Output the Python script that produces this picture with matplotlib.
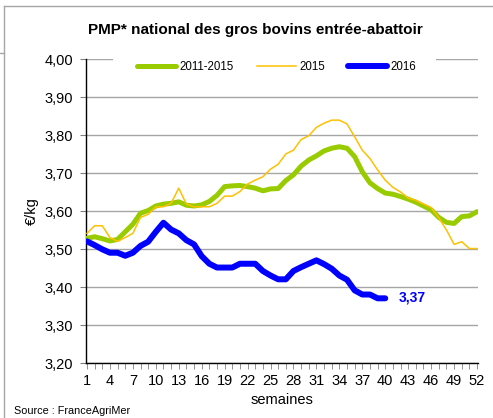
import matplotlib
matplotlib.use('Agg')
import matplotlib.pyplot as plt
from matplotlib.lines import Line2D
from matplotlib.patches import Rectangle

plt.rcParams['font.family'] = ['Liberation Sans', 'DejaVu Sans']

weeks = list(range(1, 53))
weeks_2016 = list(range(1, 41))

moy_2011_2015 = [3.529, 3.533, 3.528, 3.522, 3.526, 3.546, 3.566, 3.595, 3.602, 3.614,
                 3.619, 3.621, 3.625, 3.616, 3.614, 3.617, 3.626, 3.642, 3.665, 3.667,
                 3.668, 3.665, 3.661, 3.654, 3.659, 3.660, 3.681, 3.696, 3.719, 3.735,
                 3.746, 3.759, 3.766, 3.770, 3.766, 3.744, 3.704, 3.675, 3.660, 3.648,
                 3.645, 3.639, 3.632, 3.624, 3.614, 3.604, 3.584, 3.571, 3.568, 3.586,
                 3.588, 3.599]
prix_2015 = [3.542, 3.562, 3.562, 3.531, 3.521, 3.531, 3.542, 3.584, 3.592, 3.612,
             3.612, 3.621, 3.661, 3.619, 3.612, 3.612, 3.612, 3.621, 3.640, 3.640,
             3.652, 3.672, 3.682, 3.691, 3.711, 3.724, 3.751, 3.761, 3.789, 3.799,
             3.821, 3.832, 3.840, 3.840, 3.830, 3.796, 3.761, 3.739, 3.709, 3.682,
             3.663, 3.651, 3.635, 3.629, 3.619, 3.610, 3.583, 3.551, 3.513, 3.520,
             3.502, 3.502]
prix_2016 = [3.521, 3.511, 3.500, 3.491, 3.491, 3.483, 3.491, 3.509, 3.520, 3.546,
             3.570, 3.552, 3.542, 3.524, 3.513, 3.482, 3.462, 3.452, 3.452, 3.452,
             3.462, 3.462, 3.462, 3.443, 3.431, 3.421, 3.421, 3.443, 3.453, 3.462,
             3.471, 3.461, 3.449, 3.431, 3.420, 3.392, 3.381, 3.381, 3.371, 3.371]

yticks = [3.20, 3.30, 3.40, 3.50, 3.60, 3.70, 3.80, 3.90, 4.00]
xlabels = list(range(1, 53, 3))

green = '#99cc00'
yellow = '#ffc000'
blue = '#0000ff'

fig = plt.figure(figsize=(4.93, 4.18), dpi=100)
ax = fig.add_axes([0.1744, 0.1309, 0.7952, 0.7271])

# cadre gris autour du graphique
fig.add_artist(Line2D([4/493, 1], [1 - 6/418, 1 - 6/418], color='#a6a6a6', lw=1))
fig.add_artist(Line2D([4/493, 4/493], [0, 1 - 6/418], color='#a6a6a6', lw=1))
fig.add_artist(Line2D([0, 4/493], [1 - 53/418, 1 - 53/418], color='#a6a6a6', lw=1))

ax.plot(weeks, moy_2011_2015, color=green, lw=3.6, label='2011-2015', solid_capstyle='round', zorder=3)
ax.plot(weeks, prix_2015, color=yellow, lw=1.1, label='2015', zorder=4)
ax.plot(weeks_2016, prix_2016, color=blue, lw=4.3, label='2016', solid_capstyle='round', zorder=5)

ax.text(41.8, 3.372, '3,37', color=blue, fontsize=10, fontweight='bold', ha='left', va='center')

ax.set_xlim(0.87, 52.13)
ax.set_ylim(3.20, 4.00)
ax.set_yticks(yticks)
ax.set_yticklabels([('%.2f' % v).replace('.', ',') for v in yticks])
ax.set_xticks(weeks)
ax.set_xticklabels([str(w) if w in xlabels else '' for w in weeks])
ax.tick_params(axis='x', length=4, width=0.6, color='#808080', labelsize=10.5, pad=4)
ax.tick_params(axis='y', length=4.5, width=0.8, color='#808080', labelsize=10.5, pad=5)
ax.grid(axis='y', color='#a6a6a6', lw=1)
ax.set_axisbelow(True)
for s in ['top', 'right']:
    ax.spines[s].set_visible(False)
ax.spines['left'].set_linewidth(1)
ax.spines['bottom'].set_linewidth(1)

ax.set_ylabel('€/kg', fontsize=10.5, labelpad=4)
ax.set_xlabel('semaines', fontsize=10.5, labelpad=3)

# fond blanc de la legende sur la ligne 4,00
ax.add_patch(Rectangle((0.069, 0.975), 0.824, 0.05, transform=ax.transAxes,
                       facecolor='white', edgecolor='none', zorder=2, clip_on=False))
leg = ax.legend(loc='center', bbox_to_anchor=(0.486, 0.9747), ncol=3, frameon=False,
                fontsize=8.3, handlelength=3.4, columnspacing=2.0, handletextpad=0.26,
                borderpad=0)

fig.text(0.517, 1 - 30/418, 'PMP* national des gros bovins entrée-abattoir',
         fontsize=11, fontweight='bold', ha='center', va='center')
fig.text(14/493, 1 - 411/418, 'Source : FranceAgriMer', fontsize=7.8, ha='left', va='center')

fig.savefig('out.png', dpi=100)
